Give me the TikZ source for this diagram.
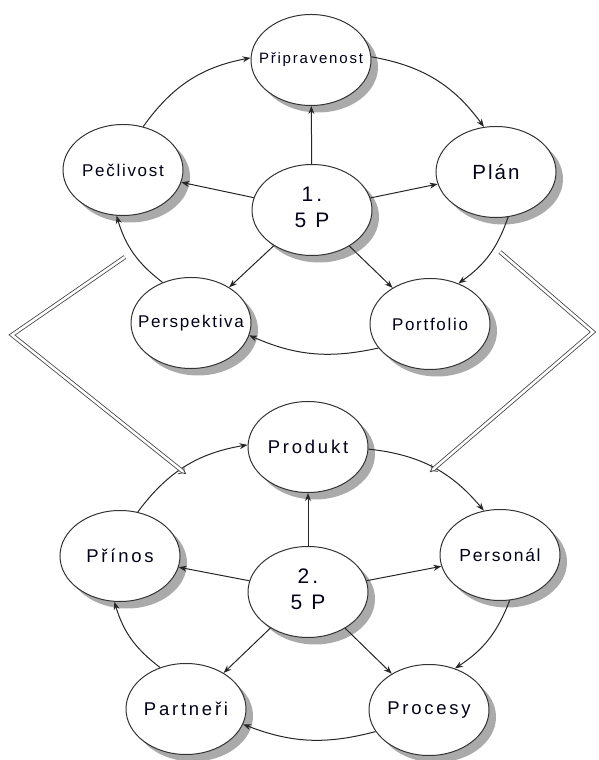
\documentclass[tikz,border=0pt]{standalone}
\usepackage{fontspec}
\setmainfont{Liberation Sans}
\newfontfamily\lsA{Liberation Sans}[LetterSpace=10]
\newfontfamily\lsB{Liberation Sans}[LetterSpace=15]
\newfontfamily\lsC{Liberation Sans}[LetterSpace=12]
\usetikzlibrary{shapes.geometric,arrows.meta}
\definecolor{shadowgray}{RGB}{170,170,170}
\newcommand{\zt}[1]{\makebox[0pt]{#1}}
\newcommand{\zz}[2]{\makebox[0pt]{\begin{tabular}{@{}c@{}}#1\\[1pt]#2\end{tabular}}}
\begin{document}
\begin{tikzpicture}[x=1pt,y=1pt,
  bub/.style={ellipse,draw=black!80,line width=1pt,fill=white,
    minimum width=120pt,minimum height=91pt,inner sep=0pt,
    font=\lsA\fontsize{17}{19}\selectfont,text=black!90!blue},
  lowbub/.style={bub,font=\lsB\fontsize{18.5}{21}\selectfont},
  hub/.style={bub,font=\lsB\fontsize{21}{25}\selectfont},
  shad/.style={ellipse,fill=shadowgray,draw=none,minimum width=120pt,minimum height=91pt,inner sep=0pt},
  arr/.style={draw=black!85,line width=1pt,-{Stealth[length=8pt,width=6pt]}},
  dbl/.style={draw=black!75,line width=0.8pt,double=white,double distance=2.6pt,
    -{Implies},line join=miter}]
\useasboundingbox (0,0) rectangle (598,760);
% shadows
\foreach \i/\x/\y in {1/311/700,2/123/590,3/312/550,4/496/588,5/191/437,6/430/436,
  7/308/313,8/120/204,9/308/168,10/500/205,11/186/51,12/429/50}
  \node[shad] (s\i) at (\x+7,\y-7) {};
% top group
\node[bub,font=\lsC\fontsize{15}{17}\selectfont] (pri) at (311,700) {\zt{Připravenost}};
\node[bub] (pec) at (123,590) {\zt{Pečlivost}};
\node[hub] (c1) at (312,550) {\zz{1.}{5 P}};
\node[bub,font=\lsA\fontsize{20.5}{23}\selectfont] (pla) at (496,588) {\zt{Plán}};
\node[bub] (per) at (191,437) {\zt{Perspektiva}};
\node[bub] (por) at (430,436) {\zt{Portfolio}};
% bottom group
\node[lowbub] (pro) at (308,313) {\zt{Produkt}};
\node[lowbub] (prin) at (120,204) {\zt{Přínos}};
\node[hub] (c2) at (308,168) {\zz{2.}{5 P}};
\node[bub,font=\lsA\fontsize{17.5}{20}\selectfont] (pers) at (500,205) {\zt{Personál}};
\node[lowbub] (par) at (186,51) {\zt{Partneři}};
\node[lowbub] (proc) at (429,50) {\zt{Procesy}};
% spokes
\foreach \t in {pri,pec,pla,per,por} \draw[arr] (c1) -- (\t);
\foreach \t in {pro,prin,pers,par,proc} \draw[arr] (c2) -- (\t);
% ring top
\draw[arr] (pec.65) to[bend left=22] (pri.178);
\draw[arr] (pri.3) to[bend left=22] (pla.105);
\draw[arr] (pla.-75) to[bend left=18] (por.55);
\draw[arr] (por.205) to[bend left=18] (per.-12);
\draw[arr] (per.125) to[bend left=18] (pec.262);
% ring bottom
\draw[arr] (prin.68) to[bend left=22] (pro.178);
\draw[arr] (pro.-2) to[bend left=22] (pers.110);
\draw[arr] (pers.-78) to[bend left=18] (proc.58);
\draw[arr] (proc.202) to[bend left=18] (par.-15);
\draw[arr] (par.122) to[bend left=18] (prin.263);
% double connectors
\coordinate (dl1) at (125,503);
\coordinate (dl2) at (12,425);
\coordinate (dl3) at (186,286);
\coordinate (dr1) at (500,508);
\coordinate (dr2) at (593,428);
\coordinate (dr3) at (430,288);
\draw[dbl] (dl1) -- (dl2) -- (dl3);
\draw[dbl] (dr1) -- (dr2) -- (dr3);
\end{tikzpicture}
\end{document}
